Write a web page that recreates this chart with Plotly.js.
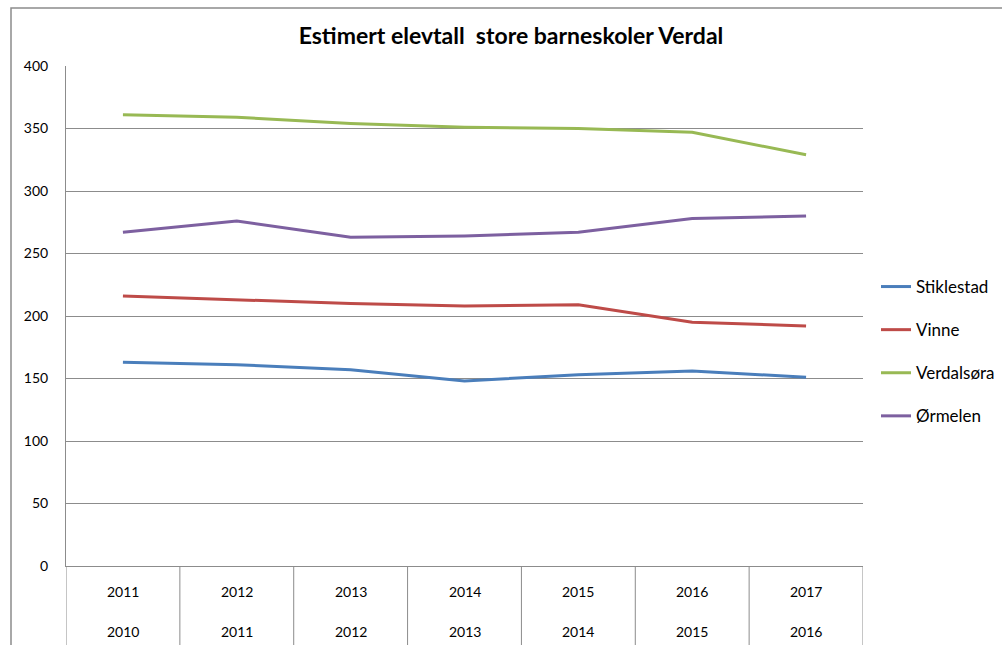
<!DOCTYPE html>
<html>
<head>
<meta charset="utf-8">
<script src="https://cdn.plot.ly/plotly-3.0.1.min.js"></script>
<style>html,body{margin:0;padding:0;background:#fff;}#chart{width:1002px;height:645px;}</style>
</head>
<body>
<div id="chart"></div>
<script>
const categories = ["2011", "2012", "2013", "2014", "2015", "2016", "2017"];
const topLabels = ["2011", "2012", "2013", "2014", "2015", "2016", "2017"];
const bottomLabels = ["2010", "2011", "2012", "2013", "2014", "2015", "2016"];
const seriesNames = ["Stiklestad", "Vinne", "Verdalsøra", "Ørmelen"];
const stiklestad = [163, 161, 157, 148, 153, 156, 151];
const vinne = [216, 213, 210, 208, 209, 195, 192];
const verdalsora = [361, 359, 354, 351, 350, 347, 329];
const ormelen = [267, 276, 263, 264, 267, 278, 280];
const colors = ["#4a7ebb", "#be4b48", "#98b954", "#7d60a0"];

const seriesValues = [stiklestad, vinne, verdalsora, ormelen];
const FONT = "Lato, 'Open Sans', sans-serif";

const traces = seriesValues.map((vals, i) => ({
  type: "scatter",
  mode: "lines",
  name: seriesNames[i],
  x: categories,
  y: vals,
  line: {color: colors[i], width: 3},
  legendgroup: "g" + i,
  hoverinfo: "x+y+name"
}));

const bottomPaper = -79 / 500;
const shapes = [];
for (let i = 0; i <= categories.length; i++) {
  shapes.push({
    type: "line", xref: "x", yref: "paper",
    x0: i - 0.5, x1: i - 0.5, y0: 0, y1: bottomPaper,
    line: {color: "#8c8c8c", width: 1}
  });
}
shapes.push({
  type: "rect", xref: "paper", yref: "paper",
  x0: (11 - 66) / 797, x1: 1.3, y0: -0.4, y1: (566 - 8) / 500,
  line: {color: "#8c8c8c", width: 1.5}, fillcolor: "rgba(0,0,0,0)", layer: "below"
});

const annotations = [];
categories.forEach((c, i) => {
  annotations.push({
    xref: "x", yref: "paper", x: i, y: -(591 - 566) / 500,
    text: topLabels[i], showarrow: false, yanchor: "middle",
    font: {family: FONT, size: 14, color: "#000"}
  });
  annotations.push({
    xref: "x", yref: "paper", x: i, y: -(631 - 566) / 500,
    text: bottomLabels[i], showarrow: false, yanchor: "middle",
    font: {family: FONT, size: 14, color: "#000"}
  });
});

const layout = {
  width: 1002, height: 645,
  margin: {l: 66, r: 139, t: 66, b: 79, pad: 0, autoexpand: false},
  paper_bgcolor: "#fff", plot_bgcolor: "#fff",
  title: {
    text: "<b>Estimert elevtall  store barneskoler Verdal</b>",
    x: 511 / 1002, xanchor: "center", xref: "container",
    y: 1 - 36 / 645, yanchor: "middle", yref: "container",
    font: {family: FONT, size: 23, color: "#000"}
  },
  xaxis: {
    type: "category",
    range: [-0.5, 6.5],
    showticklabels: false,
    showgrid: false,
    zeroline: false,
    showline: true, linecolor: "#8c8c8c", linewidth: 1,
    ticks: ""
  },
  yaxis: {
    range: [0, 400],
    dtick: 50,
    tick0: 0,
    showgrid: true, gridcolor: "#8c8c8c", gridwidth: 1,
    zeroline: false,
    showline: true, linecolor: "#8c8c8c", linewidth: 1,
    ticks: "", ticklabelstandoff: 14,
    tickfont: {family: FONT, size: 14, color: "#000"}
  },
  showlegend: true,
  legend: {
    xref: "container", yref: "container",
    x: 876 / 1002, xanchor: "left",
    y: 1 - 269 / 645, yanchor: "top",
    font: {family: FONT, size: 17, color: "#000"},
    tracegroupgap: 18,
    itemwidth: 30,
    bgcolor: "rgba(0,0,0,0)"
  },
  shapes: shapes,
  annotations: annotations
};

Plotly.newPlot("chart", traces, layout, {displayModeBar: false, staticPlot: true});
</script>
</body>
</html>
